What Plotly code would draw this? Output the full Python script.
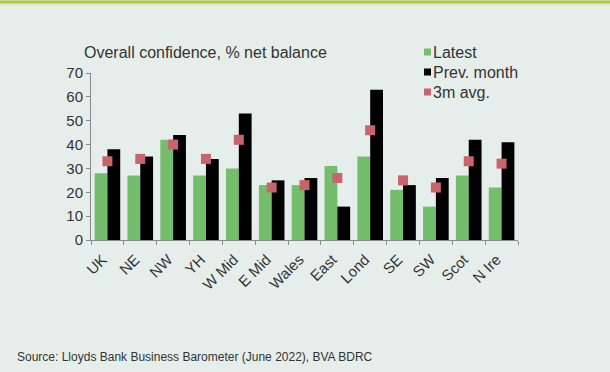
import plotly.graph_objects as go

regions = ["UK", "NE", "NW", "YH", "W Mid", "E Mid", "Wales", "East",
           "Lond", "SE", "SW", "Scot", "N Ire"]
latest = [28, 27, 42, 27, 30, 23, 23, 31, 35, 21, 14, 27, 22]
prev_month = [38, 35, 44, 34, 53, 25, 26, 14, 63, 23, 26, 42, 41]
avg_3m = [33, 34, 40, 34, 42, 22, 23, 26, 46, 25, 22, 33, 32]
y_ticks = [0, 10, 20, 30, 40, 50, 60, 70]

series_names = ["Latest", "Prev. month", "3m avg."]
series_colors = ["#74bd6c", "#000000", "#c9636c"]

W, H = 610, 372
ML, MR, MT, MB = 91, 92, 73, 132
PH = H - MT - MB
PW = W - ML - MR


def py(p):
    # pixel row -> paper y
    return (H - MB - p) / PH


def px(p):
    # pixel column -> paper x
    return (p - ML) / PW


fig = go.Figure()
fig.add_trace(go.Bar(x=regions, y=latest, name=series_names[0],
                     marker=dict(color=series_colors[0], line=dict(width=0))))
fig.add_trace(go.Bar(x=regions, y=prev_month, name=series_names[1],
                     marker=dict(color=series_colors[1], line=dict(width=0))))
fig.add_trace(go.Scatter(x=regions, y=avg_3m, name=series_names[2], mode="markers",
                         marker=dict(symbol="square", size=10, color=series_colors[2],
                                     line=dict(width=0))))

# hand-built legend: small squares with labels, top right of the plot
shapes = [
    dict(type="line", xref="paper", yref="paper", x0=px(0), x1=px(W),
         y0=py(2), y1=py(2), line=dict(color="#a9c83c", width=3)),
    dict(type="line", xref="paper", yref="paper", x0=px(0), x1=px(W),
         y0=py(5), y1=py(5), line=dict(color="#d6e6b0", width=1)),
]
annotations = [
    dict(text="Overall confidence, % net balance", xref="paper", yref="paper",
         x=px(82), y=py(52), xanchor="left", yanchor="middle", showarrow=False,
         font=dict(size=16, color="#333333")),
    dict(text="Source: Lloyds Bank Business Barometer (June 2022), BVA BDRC",
         xref="paper", yref="paper", x=px(15), y=py(357), xanchor="left",
         yanchor="middle", showarrow=False, font=dict(size=12, color="#333333")),
]
legend_rows = [52, 72, 92]
for name, color, row in zip(series_names, series_colors, legend_rows):
    shapes.append(dict(type="rect", xref="paper", yref="paper",
                       x0=px(424), x1=px(431), y0=py(row + 3.5), y1=py(row - 3.5),
                       fillcolor=color, line=dict(width=0)))
    annotations.append(dict(text=name, xref="paper", yref="paper",
                            x=px(431), y=py(row), xanchor="left", yanchor="middle",
                            showarrow=False, font=dict(size=16, color="#333333")))

fig.update_layout(
    width=W, height=H,
    margin=dict(l=ML, r=MR, t=MT, b=MB, autoexpand=False),
    paper_bgcolor="#e6eeeb", plot_bgcolor="#e6eeeb",
    barmode="group", bargap=0.22, bargroupgap=0,
    font=dict(family="Liberation Sans, Arial, sans-serif", color="#333333", size=14),
    showlegend=False,
    xaxis=dict(range=[-0.5, len(regions) - 0.5], showline=True,
               linecolor="#8a8a8a", linewidth=1,
               ticks="outside", tickson="boundaries", ticklen=4, tickcolor="#8a8a8a",
               tickangle=-45, tickfont=dict(size=15, color="#333333"),
               ticklabelstandoff=4, ticklabelshift=-5,
               showgrid=False, zeroline=False),
    yaxis=dict(range=[0, 70], tickvals=y_ticks, showline=True, linecolor="#8a8a8a",
               linewidth=1, ticks="outside", ticklen=4, tickcolor="#8a8a8a",
               tickfont=dict(size=15, color="#333333"),
               showgrid=False, zeroline=False),
    annotations=annotations,
    shapes=shapes,
)

fig.write_html("out.html")
